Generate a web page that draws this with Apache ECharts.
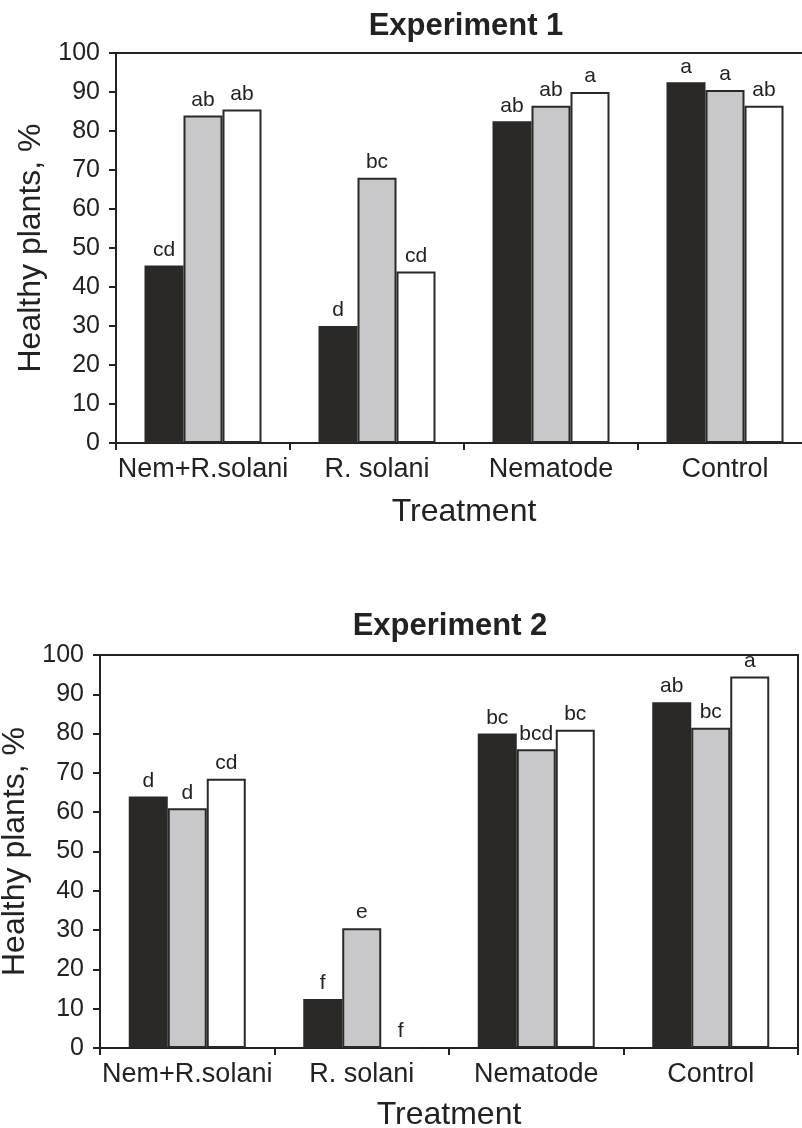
<!DOCTYPE html>
<html>
<head>
<meta charset="utf-8">
<script src="https://cdn.jsdelivr.net/npm/echarts@6/dist/echarts.min.js"></script>
<style>
html,body{margin:0;padding:0;background:#fff;}
#chart{width:802px;height:1128px;}
</style>
</head>
<body>
<div id="chart"></div>
<script>
const categories = ['Nem+R.solani', 'R. solani', 'Nematode', 'Control'];
const yTicks = [0, 10, 20, 30, 40, 50, 60, 70, 80, 90, 100];

const exp1Black = [45.5, 30, 82.5, 92.5];
const exp1Gray = [84, 68, 86.5, 90.5];
const exp1White = [85.5, 44, 90, 86.5];
const exp1BlackLetters = ['cd', 'd', 'ab', 'a'];
const exp1GrayLetters = ['ab', 'bc', 'ab', 'a'];
const exp1WhiteLetters = ['ab', 'cd', 'a', 'ab'];

const exp2Black = [64, 12.5, 80, 88];
const exp2Gray = [61, 30.5, 76, 81.5];
const exp2White = [68.5, 0, 81, 94.5];
const exp2BlackLetters = ['d', 'f', 'bc', 'ab'];
const exp2GrayLetters = ['d', 'e', 'bcd', 'bc'];
const exp2WhiteLetters = ['cd', 'f', 'bc', 'a'];

const FONT = '"Liberation Sans", Arial, Helvetica, sans-serif';
const INK = '#222222';
const fills = ['#2a2927', '#c8c8ca', '#ffffff'];

function yAxis(gridIndex, gap) {
  return {
    gridIndex: gridIndex, type: 'value', min: yTicks[0], max: yTicks[yTicks.length - 1], interval: 10,
    name: 'Healthy plants, %', nameLocation: 'middle', nameGap: gap,
    nameTextStyle: { fontFamily: FONT, fontSize: 32, color: INK },
    axisLine: { show: true, lineStyle: { color: INK, width: 2 } },
    axisTick: { show: true, length: 7, lineStyle: { color: INK, width: 2 } },
    axisLabel: { fontFamily: FONT, fontSize: 25, color: INK, margin: 16 },
    splitLine: { show: false }
  };
}
function xAxis(gridIndex, gap) {
  return {
    gridIndex: gridIndex, type: 'category', data: categories,
    name: 'Treatment', nameLocation: 'middle', nameGap: gap,
    nameTextStyle: { fontFamily: FONT, fontSize: 32, color: INK },
    axisLine: { show: true, lineStyle: { color: INK, width: 2 } },
    axisTick: { show: true, interval: 0, length: 7, lineStyle: { color: INK, width: 2 } },
    axisLabel: { interval: 0, fontFamily: FONT, fontSize: 27, color: INK, margin: 13 },
    splitLine: { show: false }
  };
}
function barSeries(idx, data, letters, colorIdx) {
  return {
    type: 'bar', xAxisIndex: idx, yAxisIndex: idx, data: data,
    barWidth: 39, barGap: '0%',
    itemStyle: { color: fills[colorIdx], borderColor: '#2a2927', borderWidth: 2 },
    label: {
      show: true, position: 'top', distance: 5,
      fontFamily: FONT, fontSize: 21, color: INK,
      formatter: function (p) { return letters[p.dataIndex]; }
    },
    animation: false
  };
}

const chart = echarts.init(document.getElementById('chart'), null, { renderer: 'canvas' });
chart.setOption({
  backgroundColor: '#ffffff',
  animation: false,
  title: [
    { text: 'Experiment 1', left: 461, top: 6, textAlign: 'center',
      textStyle: { fontFamily: FONT, fontSize: 31, fontWeight: 'bold', color: INK } },
    { text: 'Experiment 2', left: 445, top: 606, textAlign: 'center',
      textStyle: { fontFamily: FONT, fontSize: 31, fontWeight: 'bold', color: INK } }
  ],
  grid: [
    { left: 116, top: 53, width: 696, height: 390, outerBoundsMode: 'none', containLabel: false,
      show: true, borderColor: INK, borderWidth: 2, backgroundColor: 'transparent' },
    { left: 100, top: 655, width: 698, height: 393, outerBoundsMode: 'none', containLabel: false,
      show: true, borderColor: INK, borderWidth: 2, backgroundColor: 'transparent' }
  ],
  xAxis: [xAxis(0, 53), xAxis(1, 51)],
  yAxis: [yAxis(0, 66), yAxis(1, 66)],
  series: [
    barSeries(0, exp1Black, exp1BlackLetters, 0),
    barSeries(0, exp1Gray, exp1GrayLetters, 1),
    barSeries(0, exp1White, exp1WhiteLetters, 2),
    barSeries(1, exp2Black, exp2BlackLetters, 0),
    barSeries(1, exp2Gray, exp2GrayLetters, 1),
    barSeries(1, exp2White, exp2WhiteLetters, 2)
  ]
});
</script>
</body>
</html>
